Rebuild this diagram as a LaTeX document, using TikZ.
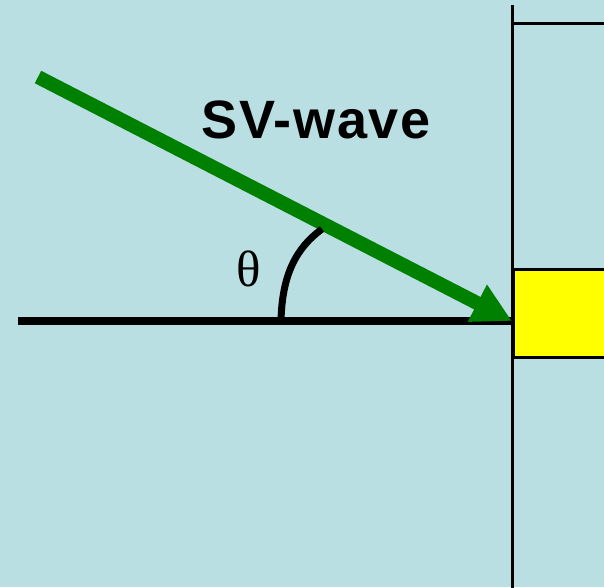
\documentclass[tikz,border=0pt]{standalone}
\usepackage{fontspec}
\setsansfont{Liberation Sans}
\newfontfamily\grk{Liberation Serif}
\usetikzlibrary{arrows.meta}
\definecolor{Sky}  {HTML}{BADFE2}
\definecolor{WaveG}{HTML}{008000}
\definecolor{Fill} {HTML}{FFFF00}
\tikzset{
  wall/.style={draw=black, line width=3pt},
  wave/.style={
    -{Triangle[length=39pt,width=39pt]},
    line width=14pt, color=WaveG,
  },
  ground/.style={draw=black, line width=8pt},
  ang/.style={draw=black, line width=7pt},
  lbl/.style={font=\fontsize{54}{60}\selectfont\sffamily\bfseries\addfontfeature{LetterSpace=3}, inner sep=0pt},
}
\begin{document}
\begin{tikzpicture}[x=1pt,y=-1pt]
  \fill[Sky] (0,0) rectangle (604,587);
  \useasboundingbox (0,0) rectangle (604,587);
  % receiver block
  \node[wall, fill=Fill, minimum width=100pt, minimum height=88pt, anchor=west, inner sep=0pt](blk) at (512,313) {};
  \coordinate (wt) at (512,5);
  \coordinate (wb) at (512,590);
  \coordinate (tl) at (512,23);
  \coordinate (tr) at (606,23);
  \draw[wall] (wt) -- (wb);
  \draw[wall] (tl) -- (tr);
  % ground line and incoming wave
  \coordinate (g0) at (18,321);
  \coordinate (tip) at (512,321);
  \coordinate (src) at (38,77);
  \draw[ground] (g0) -- (tip);
  \draw[wave] (src) -- (tip);
  % angle
  \coordinate (a0) at (281,321);
  \coordinate (a1) at (322,229);
  \draw[ang] (a0) .. controls (282,275) and (296,248) .. (a1);
  \node[font=\fontsize{51}{54}\selectfont\grk, inner sep=0pt](th) at (249,269) {θ};
  \node[lbl](sv) at (316,120) {SV-wave};
\end{tikzpicture}
\end{document}
